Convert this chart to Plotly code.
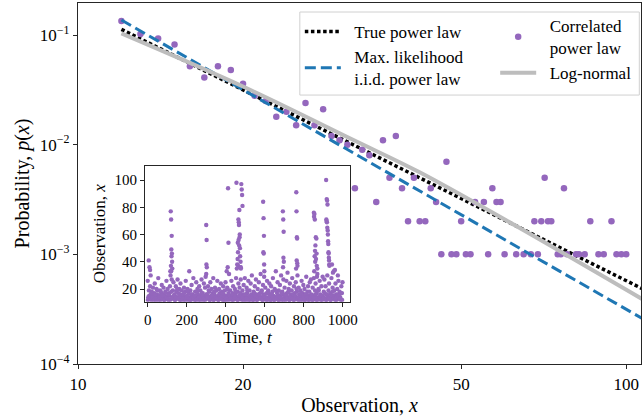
import plotly.graph_objects as go

# ---------------- data ----------------
# Empirical pdf of the correlated power-law sample (main panel)
obs_x = [12, 13, 14, 15, 16, 17, 18, 19, 20, 21, 22, 23, 24, 25, 26, 27, 28, 29, 30,
         31, 32, 33, 34, 35, 36, 37, 38, 39, 40, 41, 42, 43, 44, 45, 46, 47, 48, 49,
         50, 51, 52, 53, 55, 56, 57, 58, 59, 60, 63, 65, 67, 68, 69, 70, 71, 72, 73,
         75, 76, 77, 78, 81, 82, 84, 86, 89, 91, 94, 96, 98, 100]
obs_p = [0.134, 0.102, 0.093, 0.082, 0.052, 0.041, 0.052, 0.048, 0.036, 0.028, 0.025,
         0.018, 0.020, 0.015, 0.024, 0.015, 0.021, 0.012, 0.011,
         0.010, 0.004, 0.009, 0.008, 0.003, 0.011, 0.005, 0.012, 0.004, 0.002, 0.005,
         0.002, 0.002, 0.004, 0.003, 0.001, 0.007, 0.001, 0.001,
         0.002, 0.001, 0.001, 0.003, 0.003, 0.001, 0.004, 0.003, 0.003, 0.001, 0.001,
         0.001, 0.001, 0.002, 0.001, 0.002, 0.005, 0.002, 0.002,
         0.001, 0.001, 0.004, 0.001, 0.001, 0.001, 0.001, 0.002, 0.001, 0.001, 0.002,
         0.001, 0.001, 0.001]

# Fitted / true curves
true_x = [12, 108]
true_p = [0.1127, 4.75e-4]
ml_x = [12, 108]
ml_p = [0.137, 2.53e-4]
logn_x = [12, 20, 31.6, 42, 63, 108]
logn_p = [0.1036, 0.0339, 0.0112, 0.0056, 0.00181, 0.00038]

# Inset time series: background band (every 3rd step)
band_a = [26, 14, 19, 13, 22, 16, 12, 18, 15, 21, 13, 17, 24, 14, 12, 20, 16, 13, 28, 15,
          14, 19, 12, 17, 23, 13, 16, 21, 12, 15, 18, 14, 26, 13, 20, 12, 17, 15, 22, 30,
          33, 27, 14, 19, 25, 13, 16, 12, 22, 18, 14, 27, 13, 17, 20, 12, 24, 15, 19, 13,
          16, 12, 21, 14, 18, 26, 13, 15, 20, 12, 17, 33, 14, 19, 12, 23, 16, 13, 28, 15,
          12, 18, 14, 25, 13, 20, 16, 12, 22, 15, 19, 13, 27, 14, 17, 12, 24, 15, 21, 29,
          31, 16, 13, 22, 14, 18, 12, 25, 15, 20, 13, 17, 28, 12, 16, 21, 14, 19, 13, 26,
          15, 12, 20, 17, 13, 24, 14, 18, 12, 22, 16, 13, 19, 25, 12, 15, 21, 14, 17, 31,
          13, 19, 14, 26, 12, 17, 22, 15, 13, 20, 16, 28, 14, 12, 18, 24, 13, 21, 15, 27,
          14, 12, 19, 16, 23, 13, 28, 15, 12, 21, 17, 14, 26, 13, 19, 12, 24, 16, 30, 15,
          12, 18, 14, 22, 13, 27, 16, 12, 20, 15, 25, 13, 17, 31, 14, 19, 12, 23, 16, 29,
          15, 21, 13, 17, 26, 12, 19, 14, 24, 16, 12, 22, 13, 18, 28, 15, 12, 20, 14, 33,
          13, 17, 25, 12, 19, 15, 23, 14, 30, 12, 18, 16, 27, 13, 21, 15, 12, 26, 17, 32,
          14, 20, 12, 24, 16, 13, 19, 28, 15, 12, 22, 17, 14, 25, 13, 18, 30, 12, 21, 16,
          13, 19, 15, 26, 12, 17, 23, 14, 20, 12, 16, 29, 13, 18, 22, 15, 12, 25, 14, 27,
          16, 12, 21, 15, 28, 13, 19, 24, 12, 17, 31, 14, 20, 13, 26, 16, 12, 22, 15, 29,
          14, 18, 27, 13, 22, 16, 12, 30, 15, 19, 24, 13, 17, 12, 28, 14, 21, 15, 33, 19,
          13, 24, 16, 12, 20, 15, 26, 13, 18, 14, 12, 22, 17, 25]
band_a_t = list(range(0, 1000, 3))

# second, lower band (every 6th step, offset 1)
band_b = [12, 15, 13, 17, 14, 12, 16, 13, 19, 12, 14, 18, 13, 15, 12, 17, 14, 13, 16, 12,
          18, 13, 15, 12, 14, 20, 13, 16, 12, 15, 13, 17, 12, 14, 19, 13, 12, 16, 14, 13,
          15, 12, 18, 13, 14, 12, 17, 15, 13, 12, 16, 14, 19, 12, 13, 15, 12, 18, 14, 13,
          12, 16, 13, 15, 17, 12, 14, 13, 20, 12, 15, 13, 16, 12, 14, 18, 13, 12, 15, 17,
          13, 14, 12, 16, 13, 19, 12, 15, 14, 13, 12, 17, 15, 12, 14, 16, 13, 18, 12, 15,
          14, 12, 13, 17, 15, 12, 16, 14, 12, 19, 13, 15, 12, 14, 17, 13, 12, 16, 15, 13,
          18, 12, 14, 13, 16, 12, 15, 20, 13, 14, 12, 17, 13, 15, 12, 16, 14, 12, 18, 13,
          15, 12, 14, 16, 13, 12, 19, 14, 15, 12, 13, 17, 12, 16, 14, 13, 12, 15, 18, 13,
          12, 14, 16, 15, 13, 17, 12]
band_b_t = list(range(1, 1000, 6))

# bursts
burst_t = [5, 9, 12, 15,
           116, 118, 119, 120, 121, 122, 123, 124, 125, 126,
           300, 301, 302, 303,
           405, 410, 412, 414,
           455, 457, 459, 461, 462, 463, 464, 465, 466, 467, 468, 469, 470, 471, 472,
           473, 474, 475, 476, 477, 478, 480, 482, 484, 486,
           592, 593, 594, 595, 596, 597, 598,
           693, 694, 695, 696, 697, 698,
           761, 762, 763, 764, 765, 766, 767, 768,
           852, 853, 854, 855, 856, 857, 858, 859, 860, 862, 863, 865, 866, 867, 868, 870,
           915, 916, 917, 918, 919, 920, 921, 922, 923, 924, 925, 926, 927, 928, 929, 930,
           931, 932, 945, 950, 960, 975]
burst_x = [41, 36, 34, 30,
           33, 77, 37, 71, 49, 44, 59, 46, 40, 35,
           67, 38, 56, 36,
           33, 36, 94, 54,
           98, 35, 38, 42, 54, 47, 37, 71, 56, 69, 67, 52, 78, 58, 60,
           50, 44, 36, 40, 36, 35, 97, 93, 89, 81,
           84, 47, 72, 46, 59, 38, 33,
           77, 36, 71, 43, 62, 40,
           35, 91, 77, 41, 58, 57, 39, 37,
           76, 73, 33, 75, 44, 71, 48, 40, 52, 58, 42, 57, 46, 37, 29, 35,
           100, 71, 70, 86, 69, 85, 65, 82, 63, 60, 55, 53, 47, 46, 43, 41,
           38, 37, 38, 32, 34, 30]

inset_t = band_a_t + band_b_t + burst_t
inset_x = band_a + band_b + burst_x

# ---------------- style ----------------
PURPLE = "#9467bd"
BLUE = "#1f77b4"
GRAY = "#bdbdbd"
FONT = "Liberation Serif"
AX = "#262626"
SP = "\u00a0\u00a0"

fig = go.Figure()

fig.add_trace(go.Scatter(x=true_x, y=true_p, mode="lines", name=SP + "True power law",
                         legend="legend",
                         line=dict(color="black", width=3.5, dash="3.5px,2.6px")))
fig.add_trace(go.Scatter(x=obs_x, y=obs_p, mode="markers",
                         name=SP + "Correlated<br>" + SP + "power law",
                         legend="legend2",
                         marker=dict(color=PURPLE, size=6.5)))
fig.add_trace(go.Scatter(x=ml_x, y=ml_p, mode="lines",
                         name=SP + "Max. likelihood<br>" + SP + "i.i.d. power law",
                         legend="legend",
                         line=dict(color=BLUE, width=3, dash="11px,5px")))
fig.add_trace(go.Scatter(x=logn_x, y=logn_p, mode="lines", name=SP + "Log-normal",
                         legend="legend2",
                         line=dict(color=GRAY, width=4, shape="spline")))
fig.add_trace(go.Scatter(x=inset_t, y=inset_x, mode="markers", showlegend=False,
                         marker=dict(color=PURPLE, size=4.4), xaxis="x2", yaxis="y2"))

# legend frame (drawn as a shape, legends themselves are transparent)
fig.add_shape(type="rect", xref="paper", yref="paper", x0=0.394, x1=0.997, y0=0.745, y1=0.975,
              line=dict(color="#d0d0d0", width=1), fillcolor="rgba(255,255,255,0.85)", layer="above")

legend_common = dict(orientation="v", xanchor="left", yanchor="top",
                     bgcolor="rgba(0,0,0,0)", borderwidth=0,
                     font=dict(size=17), itemwidth=36, traceorder="normal", tracegroupgap=0)

fig.update_layout(
    width=644, height=419,
    margin=dict(l=78, r=3, t=3, b=55, autoexpand=False),
    paper_bgcolor="white", plot_bgcolor="white",
    font=dict(family=FONT, size=17, color="black"),
    xaxis=dict(type="log", range=[1, 2.027],
               tickvals=[10, 20, 50, 100], ticktext=["10", "20", "50", "100"],
               ticks="outside", ticklen=4, tickwidth=1.2, tickcolor=AX,
               showline=True, linecolor=AX, linewidth=1.2, mirror=True,
               showgrid=False, zeroline=False,
               tickfont=dict(size=17),
               title=dict(text="Observation, <i>x</i>", font=dict(size=20), standoff=5)),
    yaxis=dict(type="log", range=[-4, -0.708],
               tickvals=[1e-4, 1e-3, 1e-2, 1e-1],
               ticktext=["10<sup>−4</sup>", "10<sup>−3</sup>", "10<sup>−2</sup>", "10<sup>−1</sup>"],
               ticks="outside", ticklen=4, tickwidth=1.2, tickcolor=AX,
               showline=True, linecolor=AX, linewidth=1.2, mirror=True,
               showgrid=False, zeroline=False,
               tickfont=dict(size=17),
               title=dict(text="Probability, <i>p</i>(<i>x</i>)", font=dict(size=20), standoff=4)),
    xaxis2=dict(domain=[0.119, 0.483], anchor="y2", range=[-14, 1037],
                tickvals=[0, 200, 400, 600, 800, 1000], tickangle=0,
                ticks="outside", ticklen=4, tickwidth=1.2, tickcolor=AX,
                showline=True, linecolor=AX, linewidth=1.2, mirror=True,
                showgrid=False, zeroline=False, tickfont=dict(size=15),
                title=dict(text="Time, <i>t</i>", font=dict(size=17), standoff=3)),
    yaxis2=dict(domain=[0.1726, 0.5493], anchor="x2", range=[10.7, 110.5],
                tickvals=[20, 40, 60, 80, 100],
                ticks="outside", ticklen=4, tickwidth=1.2, tickcolor=AX,
                showline=True, linecolor=AX, linewidth=1.2, mirror=True,
                showgrid=False, zeroline=False, tickfont=dict(size=15),
                title=dict(text="Observation, <i>x</i>", font=dict(size=17), standoff=4)),
    legend=dict(x=0.394, y=0.9695, **legend_common),
    legend2=dict(x=0.741, y=0.986, **legend_common),
    showlegend=True,
)

fig.write_html("out.html", config={"displayModeBar": False},
               post_script="document.body.style.margin='0px';")
